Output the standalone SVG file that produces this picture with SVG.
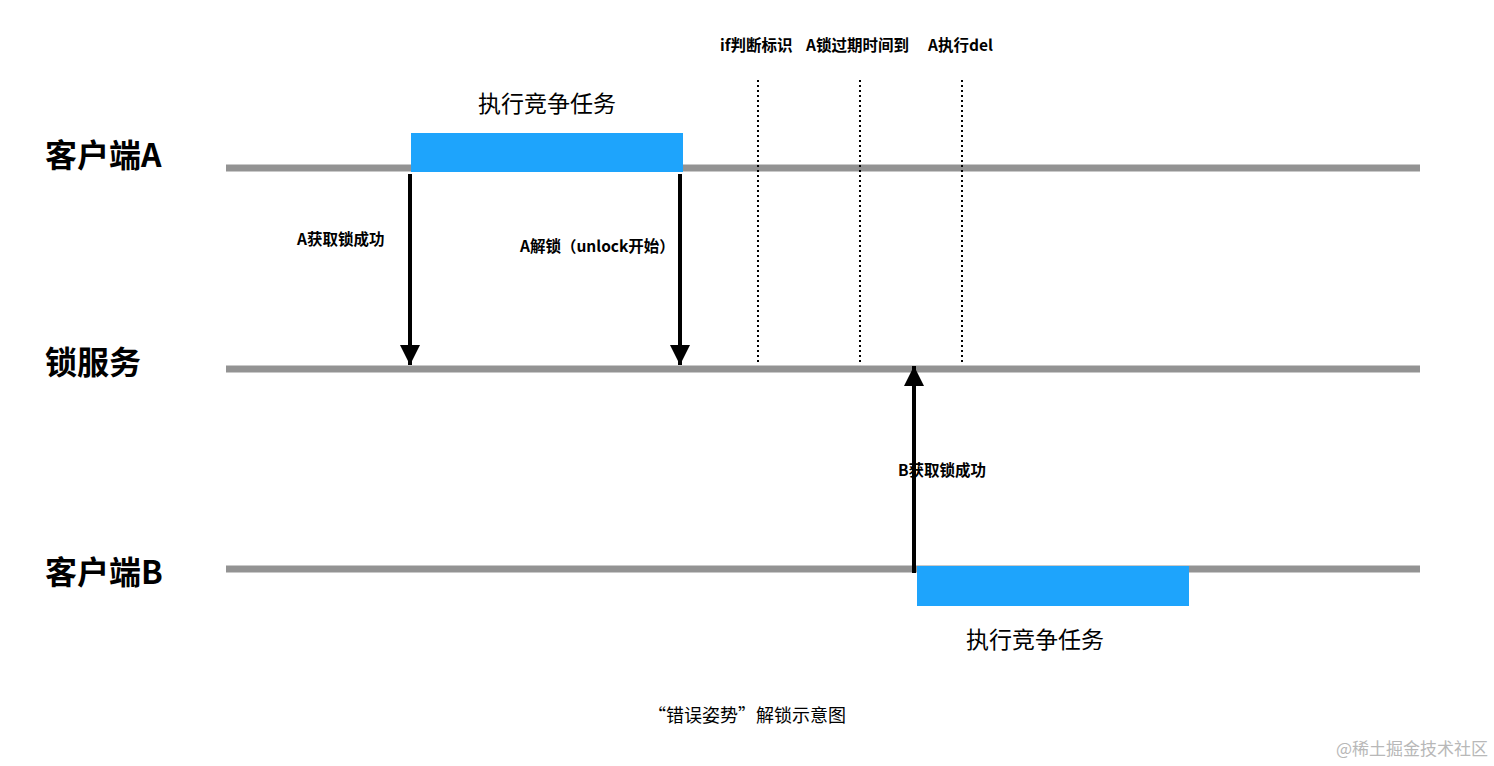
<svg xmlns="http://www.w3.org/2000/svg" width="1494" height="766" viewBox="0 0 1494 766">
<style>
.lane{stroke:#939393;stroke-width:7}
.big{font-family:"Noto Sans CJK SC","Noto Sans",sans-serif;font-size:32px;font-weight:bold;fill:#000}
.lbl{font-family:"Noto Sans CJK SC","Noto Sans",sans-serif;font-size:15.5px;font-weight:bold;fill:#000}
.task{font-family:"Noto Sans CJK SC","Noto Sans",sans-serif;font-size:23px;fill:#000}
.cap{font-family:"Noto Sans CJK SC","Noto Sans",sans-serif;font-size:18px;fill:#000}
.arr{stroke:#000;stroke-width:4;fill:none}
.dot{stroke:#000;stroke-width:2;stroke-dasharray:2 3}
.bar{fill:#1ea4fc}
</style>
<defs>
<marker id="ah" viewBox="0 0 10 10" refX="10" refY="5" markerWidth="5" markerHeight="5" orient="auto" markerUnits="strokeWidth"><path d="M0,0L10,5L0,10z" fill="#000"/></marker>
</defs>
<rect width="1494" height="766" fill="#fff"/>
<g id="laneA"><line class="lane" x1="226" y1="168" x2="1420" y2="168"/><text class="big" x="45" y="167">客户端A</text></g>
<g id="laneS"><line class="lane" x1="226" y1="369" x2="1420" y2="369"/><text class="big" x="45" y="374">锁服务</text></g>
<g id="laneB"><line class="lane" x1="226" y1="569" x2="1420" y2="569"/><text class="big" x="45" y="584">客户端B</text></g>
<g id="taskA"><rect class="bar" x="411" y="133" width="272" height="39"/><text class="task" x="547" y="112" text-anchor="middle">执行竞争任务</text></g>
<g id="taskB"><rect class="bar" x="917" y="566" width="272" height="40"/><text class="task" x="1035" y="648" text-anchor="middle">执行竞争任务</text></g>
<g id="connectors">
<line class="arr" x1="410" y1="174" x2="410" y2="365" marker-end="url(#ah)"/>
<line class="arr" x1="680" y1="174" x2="680" y2="365" marker-end="url(#ah)"/>
<line class="arr" x1="914" y1="573" x2="914" y2="366" marker-end="url(#ah)"/>
<line class="dot" x1="758" y1="80" x2="758" y2="365"/>
<line class="dot" x1="860" y1="80" x2="860" y2="365"/>
<line class="dot" x1="962" y1="80" x2="962" y2="365"/>
</g>
<g id="labels">
<text class="lbl" x="297" y="245">A获取锁成功</text>
<text class="lbl" x="520" y="252">A解锁（unlock开始）</text>
<text class="lbl" x="898" y="476">B获取锁成功</text>
<text class="lbl" x="720" y="51">if判断标识</text>
<text class="lbl" x="806" y="51">A锁过期时间到</text>
<text class="lbl" x="928" y="51">A执行del</text>
<text class="cap" x="747" y="722" text-anchor="middle">“错误姿势”解锁示意图</text>
<text x="1488" y="755" text-anchor="end" font-family="Noto Sans CJK SC,sans-serif" font-size="17" fill="#b8b8b8">@稀土掘金技术社区</text>
</g>
</svg>
